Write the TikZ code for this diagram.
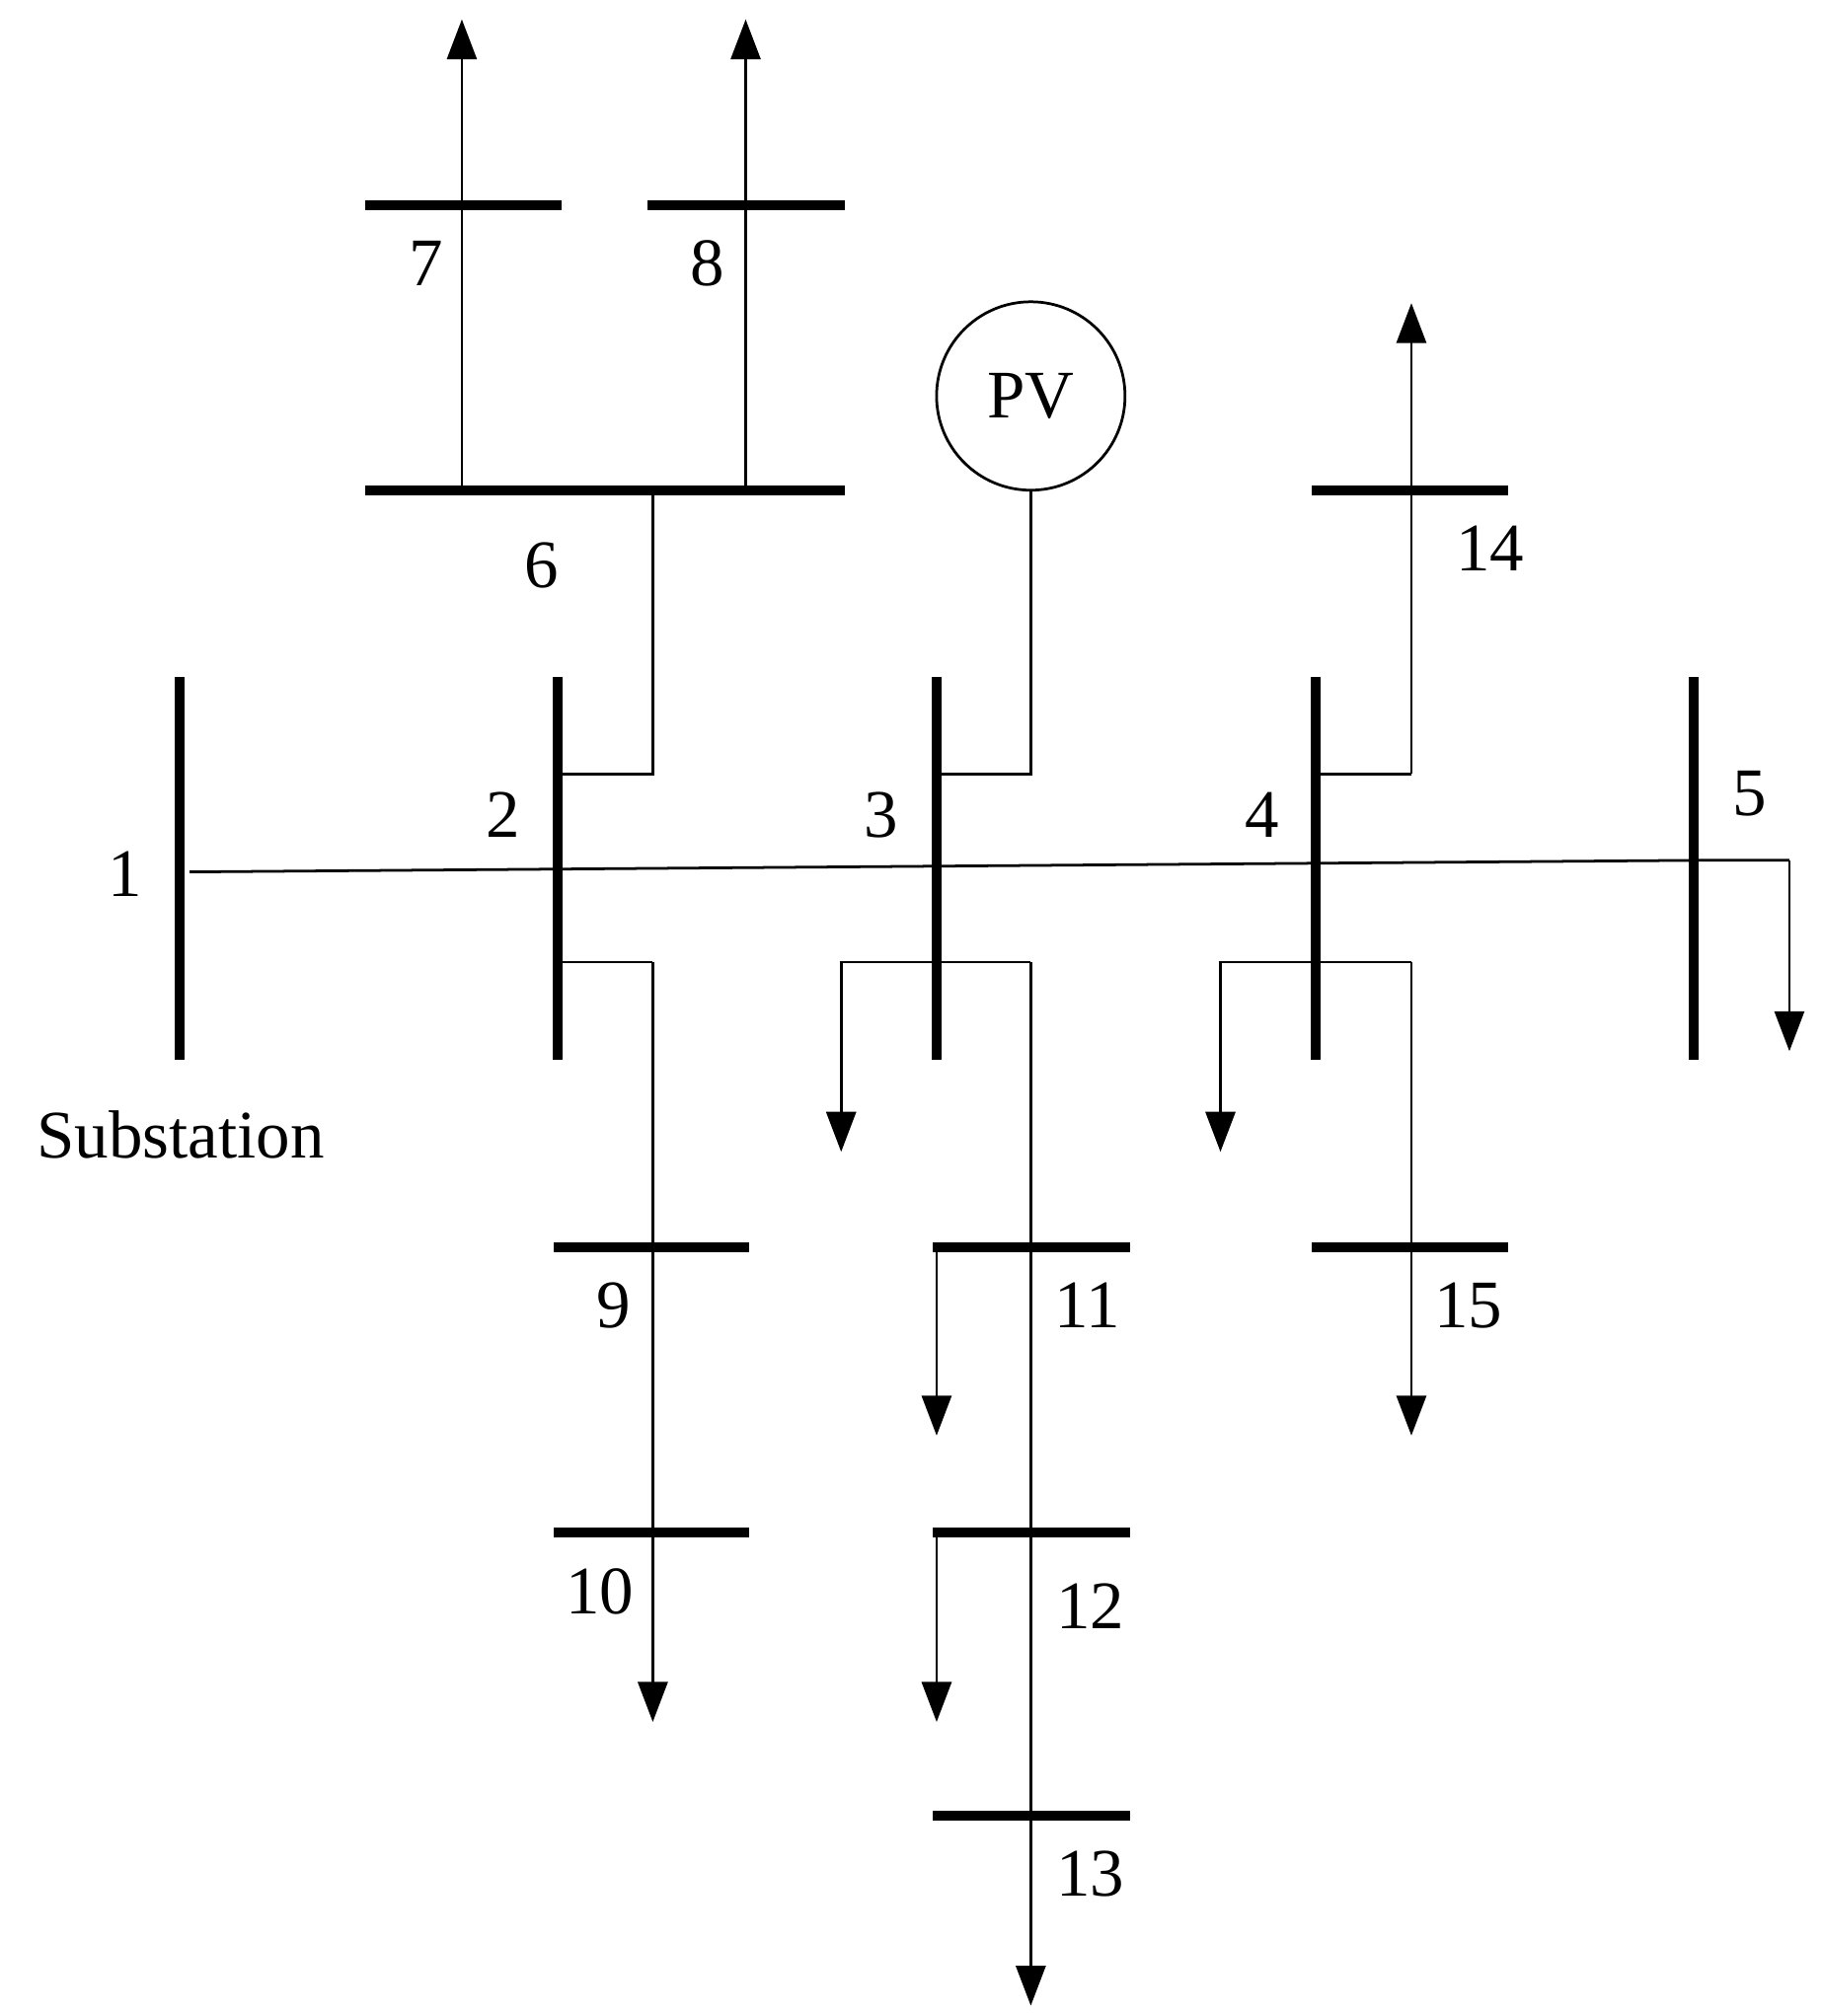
\documentclass[tikz,border=0pt]{standalone}
\usepackage{fontspec}
\setmainfont{Liberation Serif}
\usetikzlibrary{arrows.meta}
\begin{document}
\begin{tikzpicture}[x=0.01cm,y=-0.01cm,
  line/.style={line width=0.6pt},
  bus/.style={line width=2.2pt},
  load/.style={line width=0.6pt,-{Triangle[width=2.3mm,length=3.1mm]}},
  lbl/.style={font=\fontsize{15}{17}\selectfont,inner sep=0pt}]
\useasboundingbox (0,0) rectangle (1412,1563);
% vertical buses
\foreach \n/\x in {b1/139,b2/432,b3/726,b4/1020,b5/1313}{
  \draw[bus] (\x,525) coordinate(\n t) -- (\x,822) coordinate(\n b);}
% horizontal buses
\foreach \n/\xa/\xb/\y in {b6/283/655/380,b7/283/435/159,b8/502/655/159,b14/1017/1169/380,
  b9/429/581/967,b10/429/581/1188,b11/723/876/967,b12/723/876/1188,b13/723/876/1408,b15/1017/1169/967}{
  \draw[bus] (\xa,\y) coordinate(\n l) -- (\xb,\y) coordinate(\n r);}
% labels
\node[lbl] (l1) at (97,678) {1};
\node[lbl] (l2) at (390,632) {2};
\node[lbl] (l3) at (683,632) {3};
\node[lbl] (l4) at (978,632) {4};
\node[lbl] (l5) at (1356,615) {5};
\node[lbl] (l6) at (420,438) {6};
\node[lbl] (l7) at (330,204) {7};
\node[lbl] (l8) at (548,204) {8};
\node[lbl] (l9) at (476,1012) {9};
\node[lbl] (l10) at (465,1234) {10};
\node[lbl] (l11) at (843,1012) {11};
\node[lbl] (l12) at (845,1245) {12};
\node[lbl] (l13) at (845,1453) {13};
\node[lbl] (l14) at (1155,425) {14};
\node[lbl] (l15) at (1138,1012) {15};
\node[lbl] (sub) at (140,880) {Substation};
\node[draw,line width=0.6pt,circle,minimum size=1.46cm,inner sep=0pt,font=\fontsize{15}{17}\selectfont] (pv) at (799,307) {PV};
% main feeder
\draw[line] (147,676) -- (1313,667) -- (1387,667);
\draw[load] (1387,667) -- (1387,815);
% bus 2 up / down
\draw[line] (432,600) -- (506,600) -- (506,380);
\draw[load] (358,380) -- (358,15);
\draw[load] (578,380) -- (578,15);
\draw[line] (432,746) -- (506,746);
\draw[load] (506,746) -- (506,1335);
% bus 3
\draw[line] (726,600) -- (799,600) -- (pv.south);
\draw[load] (726,746) -- (652,746) -- (652,893);
\draw[line] (726,746) -- (799,746);
\draw[load] (799,746) -- (799,1555);
\draw[load] (726,967) -- (726,1113);
\draw[load] (726,1188) -- (726,1335);
% bus 4
\draw[line] (1020,600) -- (1094,600);
\draw[load] (1094,600) -- (1094,235);
\draw[load] (1020,746) -- (946,746) -- (946,893);
\draw[line] (1020,746) -- (1094,746);
\draw[load] (1094,746) -- (1094,1113);
\end{tikzpicture}
\end{document}
